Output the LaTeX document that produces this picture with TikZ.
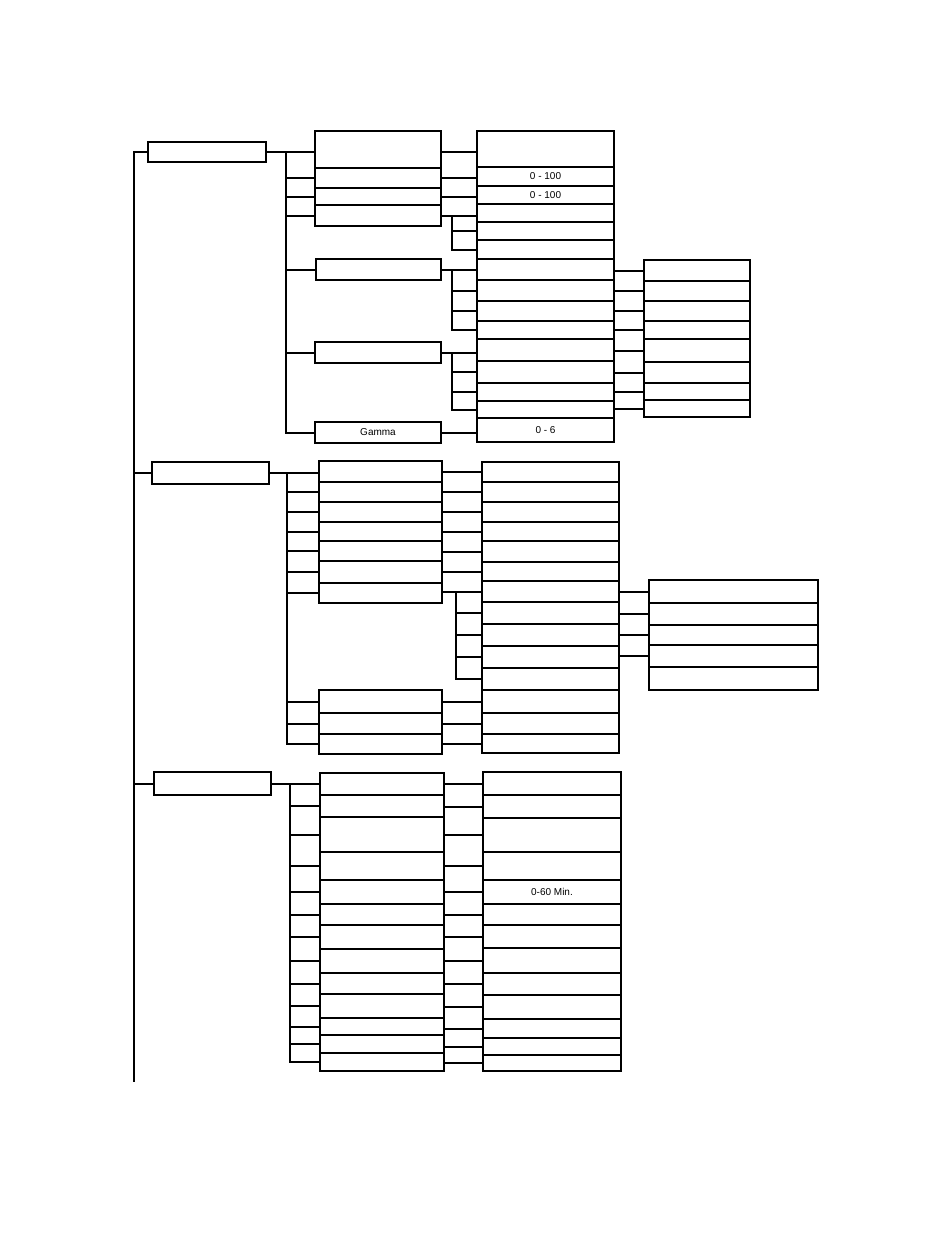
\documentclass[tikz,border=0pt]{standalone}
\usepackage{fontspec}
\setmainfont{Liberation Sans}

\begin{document}
\begin{tikzpicture}[x=1pt, y=-1pt, line width=2pt, line cap=rect, color=black,
      every node/.append style={font=\fontsize{10}{12}\selectfont}]
    \tikzstyle{cell} = [draw, rectangle, inner sep=0pt, anchor=north west]
    \useasboundingbox (0,0) rectangle (950,1242);

    % main boxes on the trunk
    \coordinate (trunk) at (134,1081);
    \node[cell, minimum width=118pt, minimum height=20pt] (A) at (147,141) {};
    \node[cell, minimum width=117pt, minimum height=22pt] (B) at (151,461) {};
    \node[cell, minimum width=117pt, minimum height=23pt] (C) at (153,771) {};
    \draw (A.west -| trunk) -- (trunk);
    \foreach \n in {A,B,C}
      \draw (\n.west -| trunk) -- (\n.west);

    % first group
    \foreach \b [count=\i, remember=\b as \t (initially 130)] in {167,187,204,225}
    {
      \pgfmathsetmacro\h{\b-\t}
      \node[cell, minimum width=126pt, minimum height=\h pt] (Ar\i) at (314,\t) {};
    }
    \node[cell, minimum width=125pt, minimum height=21pt] (Ad) at (315,258) {};
    \node[cell, minimum width=126pt, minimum height=21pt] (Ae) at (314,341) {};
    \node[cell, minimum width=126pt, minimum height=21pt] (Ag) at (314,421) {Gamma};
    \foreach \b/\lab [count=\i, remember=\b as \t (initially 130)] in
      {166/{}, 185/{0 - 100}, 203/{0 - 100}, 221/{}, 239/{}, 258/{}, 279/{}, 300/{},
       320/{}, 338/{}, 360/{}, 382/{}, 400/{}, 417/{}, 441/{0 - 6}}
    {
      \pgfmathsetmacro\h{\b-\t}
      \node[cell, minimum width=137pt, minimum height=\h pt] (Ac\i) at (476,\t) {\lab};
    }
    \foreach \b [count=\i, remember=\b as \t (initially 259)] in {280,300,320,338,361,382,399,416}
    {
      \pgfmathsetmacro\h{\b-\t}
      \node[cell, minimum width=106pt, minimum height=\h pt] (Ax\i) at (643,\t) {};
    }
    \coordinate (busA) at (286,0);
    \coordinate (subA) at (452,0);
    \draw (A.east) -- (A.east -| Ar1.west);
    \draw (A.east -| busA) -- (Ag.west -| busA);
    \foreach \n in {Ar2,Ar3,Ar4,Ad,Ae,Ag}
      \draw (\n.west -| busA) -- (\n.west);
    \draw (A.east -| Ar1.east) -- (A.east -| Ac1.west);
    \foreach \n/\m in {Ar2/Ac2, Ar3/Ac3, Ar4/Ac4, Ad/Ac7, Ae/Ac11, Ag/Ac15}
      \draw (\n.east) -- (\n.east -| \m.west);
    \draw (Ar4.east -| subA) -- (Ac6.west -| subA);
    \draw (Ad.east -| subA) -- (Ac10.west -| subA);
    \draw (Ae.east -| subA) -- (Ac14.west -| subA);
    \foreach \i in {5,6,8,9,10,12,13,14}
      \draw (Ac\i.west -| subA) -- (Ac\i.west);
    \foreach \i in {1,...,8}
      \draw (Ax\i.west -| Ac1.east) -- (Ax\i.west);

    % second group
    \foreach \b [count=\i, remember=\b as \t (initially 460)] in {481,501,521,540,560,582,602}
    {
      \pgfmathsetmacro\h{\b-\t}
      \node[cell, minimum width=123pt, minimum height=\h pt] (Br\i) at (318,\t) {};
    }
    \foreach \b [count=\i, remember=\b as \t (initially 689)] in {712,733,753}
    {
      \pgfmathsetmacro\h{\b-\t}
      \node[cell, minimum width=123pt, minimum height=\h pt] (Bs\i) at (318,\t) {};
    }
    \foreach \b [count=\i, remember=\b as \t (initially 461)] in
      {481,501,521,540,561,580,601,623,645,667,689,712,733,752}
    {
      \pgfmathsetmacro\h{\b-\t}
      \node[cell, minimum width=137pt, minimum height=\h pt] (Bc\i) at (481,\t) {};
    }
    \foreach \b [count=\i, remember=\b as \t (initially 579)] in {602,624,644,666,689}
    {
      \pgfmathsetmacro\h{\b-\t}
      \node[cell, minimum width=169pt, minimum height=\h pt] (Bx\i) at (648,\t) {};
    }
    \coordinate (busB) at (287,0);
    \coordinate (subB) at (456,0);
    \draw (B.east) -- (B.east -| Br1.west);
    \draw (B.east -| busB) -- (Bs3.west -| busB);
    \foreach \n in {Br2,Br3,Br4,Br5,Br6,Br7,Bs1,Bs2,Bs3}
      \draw (\n.west -| busB) -- (\n.west);
    \foreach \i in {1,...,7}
      \draw (Bc\i.west -| Br1.east) -- (Bc\i.west);
    \draw (Bc7.west -| subB) -- (Bc11.west -| subB);
    \foreach \i in {8,...,11}
      \draw (Bc\i.west -| subB) -- (Bc\i.west);
    \foreach \i/\j in {1/12,2/13,3/14}
      \draw (Bs\i.east) -- (Bs\i.east -| Bc\j.west);
    \foreach \i in {1,...,4}
      \draw (Bx\i.west -| Bc1.east) -- (Bx\i.west);

    % third group
    \foreach \b [count=\i, remember=\b as \t (initially 772)] in
      {794,816,851,879,903,924,948,972,993,1017,1034,1052,1070}
    {
      \pgfmathsetmacro\h{\b-\t}
      \node[cell, minimum width=124pt, minimum height=\h pt] (Cr\i) at (319,\t) {};
    }
    \foreach \b/\lab [count=\i, remember=\b as \t (initially 771)] in
      {794/{}, 817/{}, 851/{}, 879/{}, 903/{0-60 Min.}, 924/{}, 947/{}, 972/{},
       994/{}, 1018/{}, 1037/{}, 1054/{}, 1070/{}}
    {
      \pgfmathsetmacro\h{\b-\t}
      \node[cell, minimum width=138pt, minimum height=\h pt] (Cc\i) at (482,\t) {\lab};
    }
    \coordinate (busC) at (290,0);
    \draw (C.east) -- (C.east -| Cr1.west);
    \draw (C.east -| busC) -- (Cr13.west -| busC);
    \foreach \i in {2,...,13}
      \draw (Cr\i.west -| busC) -- (Cr\i.west);
    \foreach \i in {1,...,13}
      \draw (Cc\i.west -| Cr1.east) -- (Cc\i.west);
\end{tikzpicture}
\end{document}
